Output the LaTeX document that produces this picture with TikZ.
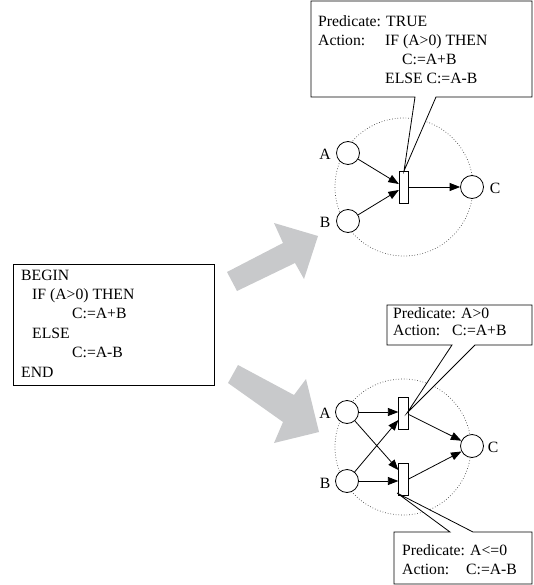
\documentclass[tikz,border=0pt]{standalone}
\usepackage{fontspec}
\setmainfont{Liberation Serif}
\usetikzlibrary{arrows.meta,calc}

\definecolor{arrowgray}{RGB}{200,201,203}

\tikzset{
  txt/.style={anchor=base west,inner sep=0pt,font=\fontsize{15.7}{19}\selectfont},
  lbl/.style={inner sep=0pt,font=\fontsize{15.7}{19}\selectfont},
  place/.style={circle,draw,fill=white,minimum size=23pt,inner sep=0pt,line width=0.8pt},
  trans/.style={rectangle,draw,fill=white,minimum width=9.5pt,minimum height=32pt,inner sep=0pt,line width=0.8pt},
  arc/.style={line width=0.8pt,-{Triangle[length=10.5pt,width=8pt]}},
  scopering/.style={draw=black!70,dotted,line width=0.7pt},
  balloon/.style={draw,fill=white,line width=0.8pt,line join=miter},
  bigarrow/.style={fill=arrowgray,draw=none}
}

\begin{document}
\begin{tikzpicture}[x=1pt,y=-1pt]
\useasboundingbox (0,0) rectangle (533,585);

% ---------- source program ----------
\draw[line width=0.8pt] (13,264) rectangle (214,385);
\node[txt] (s1) at (21,280) {BEGIN};
\node[txt] (s2) at (32,299) {IF (A>0) THEN};
\node[txt] (s3) at (72,318) {C:=A+B};
\node[txt] (s4) at (32,338) {ELSE};
\node[txt] (s5) at (72,357) {C:=A-B};
\node[txt] (s6) at (21,377) {END};

% ---------- wide translation arrows ----------
\fill[bigarrow] (227,272) -- (283,243) -- (274,223) -- (318,236) -- (304,279) -- (295,263) -- (237,291) -- cycle;
\fill[bigarrow] (238,365) -- (294,395) -- (306,379) -- (319,432) -- (274,443) -- (283,422) -- (228,383) -- cycle;

% ---------- net with a single transition ----------
\draw[scopering] (404,187) circle (69);
\node[place] (pA) at (348,153) {};
\node[place] (pB) at (348,221) {};
\node[place] (pC) at (472,187) {};
\node[trans] (t) at (404,187) {};
\node[lbl] (lA) at (325,154) {A};
\node[lbl] (lB) at (325,222) {B};
\node[lbl] (lC) at (495,188) {C};
\draw[arc] (pA) -- ([yshift=3pt]t.west);
\draw[arc] (pB) -- ([yshift=-3pt]t.west);
\draw[arc] (t.east) -- (pC);

\coordinate (tip0) at (404,171);
\draw[balloon] (311,1) -- (532,1) -- (532,97) -- (436,97) -- (tip0) -- (415,97) -- (311,97) -- cycle;
\node[txt] (a1) at (318,27) {Predicate: TRUE};
\node[txt] (a2) at (318,46) {Action:};
\node[txt] (a3) at (385,46) {IF (A>0) THEN};
\node[txt] (a4) at (402,65) {C:=A+B};
\node[txt] (a5) at (385,84) {ELSE C:=A-B};

% ---------- net with two transitions ----------
\draw[scopering] (403,447) circle (68);
\node[place] (qA) at (347,412) {};
\node[place] (qB) at (347,481) {};
\node[place] (qC) at (472,446) {};
\node[trans] (t1) at (403.5,413.5) {};
\node[trans] (t2) at (403.5,479) {};
\node[lbl] (mA) at (325,413) {A};
\node[lbl] (mB) at (325,483) {B};
\node[lbl] (mC) at (493,447) {C};
\draw[arc] (qA) -- (qA -| t1.west);
\draw[arc] (qB) -- ([yshift=-6.5pt]t1.west);
\draw[arc] (qA) -- ([yshift=9pt]t2.west);
\draw[arc] (qB) -- (qB -| t2.west);
\draw[arc] ([yshift=-1pt]t1.east) -- (qC);
\draw[arc] (t2.east) -- (qC);

\coordinate (tip1) at (407,413);
\draw[balloon] (387,305) -- (532,305) -- (532,345) -- (475,345) -- (tip1) -- (452,345) -- (387,345) -- cycle;
\node[txt] (b1) at (393,318) {Predicate: A>0};
\node[txt] (b2) at (393,335) {Action:};
\node[txt] (b3) at (452,335) {C:=A+B};

\coordinate (tip2) at (397,493);
\draw[balloon] (394,584) -- (394,532) -- (450,532) -- (tip2) -- (473,532) -- (532,532) -- (532,584) -- cycle;
\node[txt] (c1) at (402,555) {Predicate: A<=0};
\node[txt] (c2) at (402,574) {Action:};
\node[txt] (c3) at (466,574) {C:=A-B};
\end{tikzpicture}
\end{document}
